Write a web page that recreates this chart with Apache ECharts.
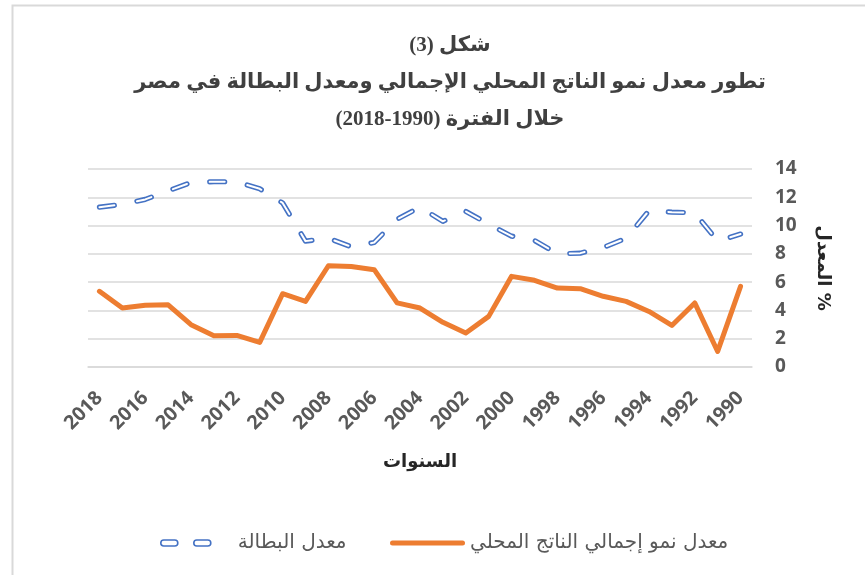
<!DOCTYPE html>
<html>
<head>
<meta charset="utf-8">
<script src="https://cdn.jsdelivr.net/npm/echarts@6/dist/echarts.min.js"></script>
<style>
html,body{margin:0;padding:0;background:#fff;}
#chart{width:865px;height:575px;}
</style>
</head>
<body>
<div id="chart" dir="rtl"></div>
<script>
var years = ['2018','2017','2016','2015','2014','2013','2012','2011','2010','2009','2008','2007','2006','2005','2004','2003','2002','2001','2000','1999','1998','1997','1996','1995','1994','1993','1992','1991','1990'];
var gdpGrowth = [5.35,4.17,4.36,4.4,2.99,2.21,2.23,1.74,5.18,4.64,7.16,7.11,6.88,4.53,4.17,3.16,2.4,3.58,6.41,6.13,5.58,5.54,5.0,4.64,3.93,2.94,4.53,1.1,5.7];
var unemployment = [11.3,11.5,11.85,12.45,13.05,13.1,13.1,12.6,11.6,8.9,9.1,8.5,8.8,10.45,11.3,10.3,11.0,10.1,9.25,8.95,8.0,8.05,8.45,9.1,11.05,10.95,10.9,8.9,9.4];
var yTicks = {min:0, max:14, interval:2};
var nameGdp = 'معدل نمو إجمالي الناتج المحلي';
var nameUnemp = 'معدل البطالة';
var titleLines = ['شكل (3)', 'تطور معدل نمو الناتج المحلي الإجمالي ومعدل البطالة في مصر', 'خلال الفترة (1990-2018)'];
var xName = 'السنوات';
var yName = '% المعدل';

var chart = echarts.init(document.getElementById('chart'), null, {renderer:'canvas'});
var blue = '#4472C4', orange = '#ED7D31', grey = '#595959';
var dash = [15, 23];
chart.setOption({
  animation: false,
  backgroundColor: '#fff',
  graphic: [{
    type: 'rect', left: 10, top: 3, z: 0,
    shape: {width: 1000, height: 1000},
    style: {fill: 'none', stroke: '#d9d9d9', lineWidth: 2}
  }],
  title: {
    text: titleLines.join('\n'),
    left: 445, top: 22, textAlign: 'center',
    textStyle: {fontFamily: '"Liberation Serif", "DejaVu Sans"', fontWeight: 'bold', fontSize: 21, lineHeight: 37, color: '#404040'}
  },
  legend: [{
    left: 155, top: 528, itemWidth: 50, itemHeight: 7, itemGap: 5,
    data: [{name: nameUnemp, icon: 'path://M3,0 H14 A3,3 0 0 1 14,6 H3 A3,3 0 0 1 3,0 Z M36,0 H47 A3,3 0 0 1 47,6 H36 A3,3 0 0 1 36,0 Z',
      itemStyle: {color: '#fff', borderColor: blue, borderWidth: 1.6}}],
    textStyle: {fontFamily: '"DejaVu Sans"', fontSize: 20, color: grey, padding: [0, 0, 0, 22]}
  }, {
    left: 385, top: 528, itemWidth: 75, itemHeight: 7, itemGap: 5,
    data: [{name: nameGdp, icon: 'path://M2.5,0 H72.5 A2.5,2.5 0 0 1 72.5,5 H2.5 A2.5,2.5 0 0 1 2.5,0 Z',
      itemStyle: {color: orange, borderWidth: 0}}],
    textStyle: {fontFamily: '"DejaVu Sans"', fontSize: 20, color: grey}
  }],
  grid: {left: 88, right: 113, top: 169, bottom: 208},
  xAxis: {
    type: 'category', data: years, boundaryGap: true,
    name: xName, nameLocation: 'middle', nameGap: 86,
    nameTextStyle: {fontFamily: '"DejaVu Sans"', fontWeight: 'bold', fontSize: 18, color: '#262626'},
    axisLine: {show: true, lineStyle: {color: '#d9d9d9', width: 1.5}},
    axisTick: {show: false},
    axisLabel: {interval: 1, rotate: 45, margin: 28, fontFamily: '"Open Sans"', fontWeight: 'bold', fontSize: 19.5, color: grey},
    splitLine: {show: false}
  },
  yAxis: {
    type: 'value', position: 'right', min: yTicks.min, max: yTicks.max, interval: yTicks.interval,
    name: yName, nameLocation: 'middle', nameRotate: -90, nameGap: 62,
    nameTextStyle: {fontFamily: '"DejaVu Sans"', fontWeight: 'bold', fontSize: 18, color: '#262626'},
    axisLine: {show: false}, axisTick: {show: false},
    axisLabel: {margin: 23, fontFamily: '"Open Sans"', fontWeight: 'bold', fontSize: 19, color: grey, align: 'left'},
    splitLine: {lineStyle: {color: '#d9d9d9', width: 1.5}}
  },
  series: [{
    name: nameGdp, type: 'line', data: gdpGrowth, symbol: 'none', smooth: false,
    lineStyle: {color: orange, width: 5, cap: 'round', join: 'round'}, itemStyle: {color: orange}, z: 2
  }, {
    name: nameUnemp, type: 'line', data: unemployment, symbol: 'none', smooth: false,
    lineStyle: {color: blue, width: 5.2, type: dash, cap: 'round', join: 'round'}, itemStyle: {color: blue}, z: 3
  }, {
    name: 'inner', type: 'line', data: unemployment, symbol: 'none', smooth: false, silent: true,
    lineStyle: {color: '#fff', width: 2, type: dash, cap: 'round', join: 'round'}, itemStyle: {color: '#fff'}, z: 4
  }]
});
</script>
</body>
</html>
